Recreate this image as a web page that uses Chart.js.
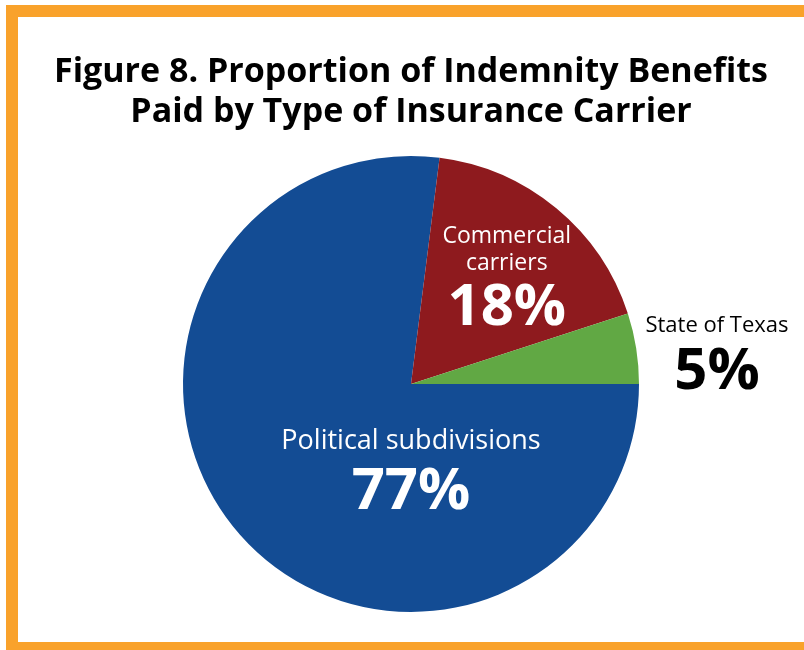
<!DOCTYPE html>
<html>
<head>
<meta charset="utf-8">
<script src="https://cdn.jsdelivr.net/npm/chart.js@4"></script>
<style>
  html, body { margin: 0; padding: 0; background: #ffffff; }
  body { width: 804px; height: 650px; position: relative; overflow: hidden; }
  #frame { position: absolute; left: 6px; top: 5px; width: 840px; height: 625px;
           border-top: 12px solid #F9A22B; border-left: 12px solid #F9A22B; border-bottom: 8px solid #F9A22B; }
  #wrap { position: absolute; left: 0; top: 0; width: 804px; height: 650px; }
</style>
</head>
<body>
<div id="frame"></div>
<div id="wrap"><canvas id="c" width="804" height="650"></canvas></div>
<script>
const titleLines = ["Figure 8. Proportion of Indemnity Benefits", "Paid by Type of Insurance Carrier"];
const categories = ["Political subdivisions", "Commercial carriers", "State of Texas"];
const labelLines = [["Political subdivisions"], ["Commercial", "carriers"], ["State of Texas"]];
const shares = [77, 18, 5];
const sliceColors = ["#134C94", "#8E1A1E", "#61A844"];
const labelColors = ["#ffffff", "#ffffff", "#000000"];

const FONT = "'Open Sans', 'Noto Sans', sans-serif";

const titlePlugin = {
  id: 'bigTitle',
  afterDraw(chart) {
    const ctx = chart.ctx;
    const meta = chart.getDatasetMeta(0);
    const cx = meta.data[0].x;
    ctx.save();
    ctx.textAlign = 'center';
    ctx.textBaseline = 'alphabetic';
    ctx.fillStyle = '#000000';
    ctx.font = "bold 34px " + FONT;
    ctx.fillText(titleLines[0], cx, 82, 728);
    ctx.fillText(titleLines[1], cx, 122, 728);
    ctx.restore();
  }
};

const labelPlugin = {
  id: 'sliceLabels',
  afterDatasetsDraw(chart) {
    const ctx = chart.ctx;
    const meta = chart.getDatasetMeta(0);
    const arc0 = meta.data[0];
    const cx = arc0.x, cy = arc0.y, r = arc0.outerRadius;
    const anchors = [
      { dx: 0.0,   lines: [0.25],           size: 27, pct: 0.475 },
      { dx: 0.42,  lines: [-0.645, -0.527], size: 23, pct: -0.33 },
      { dx: 1.342, lines: [-0.255],         size: 22, pct: -0.05 }
    ];
    ctx.save();
    ctx.textAlign = 'center';
    ctx.textBaseline = 'middle';
    shares.forEach((v, i) => {
      const a = anchors[i];
      const x = cx + a.dx * r;
      ctx.fillStyle = labelColors[i];
      ctx.font = a.size + "px " + FONT;
      labelLines[i].forEach((ln, j) => {
        ctx.fillText(ln, x, cy + a.lines[j] * r);
      });
      ctx.font = "bold 58px " + FONT;
      ctx.fillText(v + "%", x, cy + a.pct * r);
    });
    ctx.restore();
  }
};

new Chart(document.getElementById('c'), {
  type: 'pie',
  data: {
    labels: categories,
    datasets: [{
      data: shares,
      backgroundColor: sliceColors,
      borderWidth: 0,
      hoverOffset: 0
    }]
  },
  options: {
    responsive: false,
    animation: false,
    rotation: 90,
    layout: { padding: { left: 183, right: 165, top: 156, bottom: 38 } },
    plugins: {
      legend: { display: false },
      tooltip: { enabled: false },
      title: { display: false }
    }
  },
  plugins: [labelPlugin, titlePlugin]
});
</script>
</body>
</html>
